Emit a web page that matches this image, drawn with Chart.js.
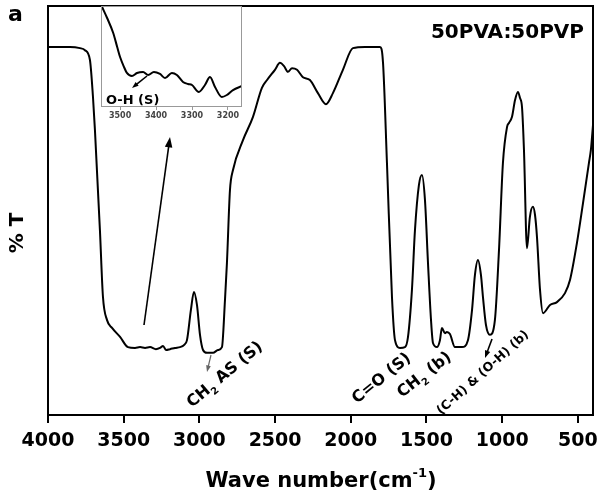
<!DOCTYPE html>
<html>
<head>
<meta charset="utf-8">
<script src="https://cdn.jsdelivr.net/npm/chart.js@4"></script>
<style>
  body { margin: 0; background: #fff; }
  #wrap { position: relative; width: 599px; height: 494px; }
  #main { position: absolute; left: 0; top: 0; }
  #inset { position: absolute; left: 99px; top: 4px; }
</style>
</head>
<body>
<div id="wrap">
  <canvas id="main" width="599" height="494"></canvas>
  <canvas id="inset" width="145" height="120"></canvas>
</div>
<script>
// FTIR spectrum, 50PVA:50PVP
const wavenumber = [4000, 3855, 3789, 3756, 3723, 3703, 3690, 3657, 3637, 3610, 3577, 3524, 3472, 3425, 3392, 3359, 3326, 3287, 3260, 3240, 3221, 3194, 3161, 3128, 3102, 3082, 3056, 3036, 3016, 2996, 2976, 2950, 2910, 2877, 2851, 2831, 2818, 2798, 2778, 2712, 2646, 2587, 2553, 2501, 2468, 2441, 2415, 2388, 2355, 2316, 2270, 2217, 2164, 2118, 2052, 1986, 1906, 1807, 1787, 1761, 1728, 1708, 1675, 1642, 1622, 1596, 1576, 1550, 1530, 1510, 1490, 1470, 1457, 1431, 1411, 1398, 1378, 1365, 1345, 1312, 1265, 1226, 1199, 1180, 1160, 1140, 1127, 1107, 1081, 1048, 1021, 995, 968, 955, 935, 915, 896, 882, 869, 856, 836, 817, 797, 783, 770, 750, 730, 684, 638, 585, 552, 506, 466, 427, 414, 400];
const transmittance = [90.0, 90.0, 89.7, 89.2, 86.8, 77.8, 69.7, 45.2, 28.9, 23.2, 21.3, 19.1, 16.6, 16.4, 16.6, 16.4, 16.6, 16.1, 16.4, 16.9, 15.9, 16.1, 16.4, 16.6, 17.1, 18.3, 25.7, 30.1, 26.9, 19.6, 15.9, 15.2, 15.2, 15.9, 16.6, 28.1, 37.2, 55.0, 59.9, 67.2, 72.9, 80.0, 81.9, 84.4, 86.1, 85.3, 83.9, 84.8, 84.4, 82.6, 81.9, 78.7, 76.0, 78.7, 84.4, 89.7, 90.0, 90.0, 86.1, 61.6, 28.9, 18.3, 16.4, 16.6, 19.1, 30.6, 45.2, 56.2, 58.7, 52.6, 37.2, 23.2, 17.6, 16.6, 18.3, 21.3, 20.0, 20.3, 19.8, 16.6, 16.6, 18.3, 25.7, 34.2, 37.9, 34.2, 28.9, 22.0, 19.6, 23.2, 40.3, 61.6, 70.4, 71.4, 72.9, 77.0, 79.0, 77.5, 75.3, 64.8, 40.8, 48.4, 50.9, 48.9, 43.5, 30.6, 24.9, 26.9, 27.6, 29.8, 33.0, 42.1, 51.8, 61.6, 64.8, 70.9];
const xTicks = [4000, 3500, 3000, 2500, 2000, 1500, 1000, 500];

// inset: O-H stretching region
const insetWavenumber = [3550, 3536, 3519, 3508, 3500, 3489, 3481, 3467, 3453, 3436, 3422, 3406, 3389, 3375, 3356, 3342, 3325, 3311, 3300, 3281, 3264, 3250, 3236, 3217, 3203, 3186, 3161];
const insetT = [99.0, 88.1, 73.3, 59.4, 49.5, 39.6, 33.7, 30.7, 33.7, 34.7, 31.7, 34.7, 32.7, 28.7, 33.7, 31.7, 24.8, 22.8, 21.8, 14.9, 21.8, 29.7, 19.8, 9.9, 11.9, 16.8, 20.8];
const insetTicks = [3500, 3400, 3300, 3200];

const FONT = "'DejaVu Sans', Arial, sans-serif";

function arrow(ctx, x1, y1, x2, y2, color, w, head) {
  const a = Math.atan2(y2 - y1, x2 - x1);
  ctx.save();
  ctx.strokeStyle = color;
  ctx.fillStyle = color;
  ctx.lineWidth = w;
  ctx.beginPath();
  ctx.moveTo(x1, y1);
  ctx.lineTo(x2 - Math.cos(a) * head * 0.7, y2 - Math.sin(a) * head * 0.7);
  ctx.stroke();
  ctx.beginPath();
  ctx.moveTo(x2, y2);
  ctx.lineTo(x2 - head * Math.cos(a - 0.35), y2 - head * Math.sin(a - 0.35));
  ctx.lineTo(x2 - head * Math.cos(a + 0.35), y2 - head * Math.sin(a + 0.35));
  ctx.closePath();
  ctx.fill();
  ctx.restore();
}

// parts: [text, isSub]
function richText(ctx, parts, x, y, deg, size) {
  ctx.save();
  ctx.translate(x, y);
  ctx.rotate(deg * Math.PI / 180);
  ctx.fillStyle = '#000';
  ctx.textBaseline = 'alphabetic';
  ctx.textAlign = 'left';
  let cx = 0;
  parts.forEach(([t, sub]) => {
    const fs = sub ? size * 0.62 : size;
    ctx.font = 'bold ' + fs + 'px ' + FONT;
    ctx.fillText(t, cx, sub ? size * 0.3 : 0);
    cx += ctx.measureText(t).width;
  });
  ctx.restore();
}

const mainDecor = {
  id: 'mainDecor',
  afterDraw(chart) {
    const ctx = chart.ctx;
    const a = chart.chartArea;
    ctx.save();
    ctx.strokeStyle = '#000';
    ctx.lineWidth = 2;
    ctx.strokeRect(a.left, a.top, a.right - a.left, a.bottom - a.top);

    ctx.fillStyle = '#000';
    ctx.font = 'bold 22px ' + FONT;
    ctx.textBaseline = 'alphabetic';
    ctx.fillText('a', 8, 21);

    ctx.font = 'bold 20px ' + FONT;
    ctx.textAlign = 'right';
    ctx.textBaseline = 'middle';
    ctx.fillText('50PVA:50PVP', 584, 33);

    // y title
    ctx.save();
    ctx.translate(18, 233);
    ctx.rotate(-Math.PI / 2);
    ctx.textAlign = 'center';
    ctx.font = 'bold 20px ' + FONT;
    ctx.fillText('% T', 0, 0);
    ctx.restore();

    // x title with superscript
    ctx.textAlign = 'left';
    ctx.textBaseline = 'alphabetic';
    ctx.font = 'bold 21px ' + FONT;
    const t1 = 'Wave number(cm';
    const w1 = ctx.measureText(t1).width;
    ctx.font = 'bold 13px ' + FONT;
    const w2 = ctx.measureText('-1').width;
    ctx.font = 'bold 21px ' + FONT;
    const w3 = ctx.measureText(')').width;
    let x0 = 321 - (w1 + w2 + w3) / 2;
    ctx.fillText(t1, x0, 487);
    ctx.font = 'bold 13px ' + FONT;
    ctx.fillText('-1', x0 + w1, 477);
    ctx.font = 'bold 21px ' + FONT;
    ctx.fillText(')', x0 + w1 + w2, 487);
    ctx.restore();

    // annotations
    arrow(ctx, 144, 325, 170, 137, '#000', 1.6, 11);
    arrow(ctx, 211, 355, 207, 372, '#666', 1.2, 7);
    arrow(ctx, 492, 339, 485, 358, '#000', 1.6, 8);
    richText(ctx, [['CH', false], ['2', true], [' AS (S)', false]], 192, 408, -40, 16);
    richText(ctx, [['C=O (S)', false]], 357, 404, -39, 16);
    richText(ctx, [['CH', false], ['2', true], [' (b)', false]], 402, 398, -38, 16);
    richText(ctx, [['(C-H) & (O-H) (b)', false]], 441, 415, -42, 12.5);
  }
};

const insetDecor = {
  id: 'insetDecor',
  afterDraw(chart) {
    const ctx = chart.ctx;
    const a = chart.chartArea;
    ctx.save();
    ctx.strokeStyle = '#999';
    ctx.lineWidth = 1;
    ctx.strokeRect(a.left + 0.5, a.top + 0.5, a.right - a.left - 1, a.bottom - a.top - 1);
    ctx.fillStyle = '#000';
    ctx.font = 'bold 13px ' + FONT;
    ctx.textBaseline = 'middle';
    ctx.fillText('O-H (S)', 7, 97);
    ctx.restore();
    arrow(ctx, 48, 72, 33, 84, '#000', 1.6, 7);
  }
};

function fixX(height) {
  return s => {
    s.height = height;
    s.paddingLeft = 0;
    s.paddingRight = 0;
  };
}

new Chart(document.getElementById('main'), {
  type: 'line',
  data: {
    datasets: [{
      data: wavenumber.map((x, i) => ({ x: x, y: transmittance[i] })),
      borderColor: '#000',
      borderWidth: 2,
      pointRadius: 0,
      cubicInterpolationMode: 'monotone',
      fill: false
    }]
  },
  options: {
    responsive: false,
    animation: false,
    layout: { padding: { top: 6, right: 6, left: 0, bottom: 0 } },
    plugins: { legend: { display: false }, tooltip: { enabled: false } },
    scales: {
      x: {
        type: 'linear',
        reverse: true,
        min: 400,
        max: 4000,
        afterBuildTicks: s => { s.ticks = xTicks.map(v => ({ value: v })); },
        afterFit: fixX(79),
        border: { display: false },
        grid: { drawOnChartArea: false, tickLength: 8, color: '#000', lineWidth: 2 },
        ticks: { color: '#000', font: { family: FONT, size: 19, weight: 'bold' }, padding: 7, maxRotation: 0, callback: v => String(v) }
      },
      y: {
        min: 0,
        max: 100,
        afterFit: s => { s.width = 48; },
        border: { display: false },
        grid: { display: false },
        ticks: { display: false }
      }
    }
  },
  plugins: [mainDecor]
});

new Chart(document.getElementById('inset'), {
  type: 'line',
  data: {
    datasets: [{
      data: insetWavenumber.map((x, i) => ({ x: x, y: insetT[i] })),
      borderColor: '#000',
      borderWidth: 2,
      pointRadius: 0,
      cubicInterpolationMode: 'monotone',
      fill: false
    }]
  },
  options: {
    responsive: false,
    animation: false,
    layout: { padding: { top: 2, right: 2, left: 2, bottom: 0 } },
    plugins: { legend: { display: false }, tooltip: { enabled: false } },
    scales: {
      x: {
        type: 'linear',
        reverse: true,
        min: 3161,
        max: 3553,
        afterBuildTicks: s => { s.ticks = insetTicks.map(v => ({ value: v })); },
        afterFit: fixX(17),
        border: { display: false },
        grid: { drawOnChartArea: false, tickLength: 3, color: '#999', lineWidth: 1 },
        ticks: { color: '#444', font: { family: FONT, size: 8, weight: 'bold' }, padding: 1, maxRotation: 0, callback: v => String(v) }
      },
      y: { display: false, min: 0, max: 100 }
    }
  },
  plugins: [insetDecor]
});
</script>
</body>
</html>
